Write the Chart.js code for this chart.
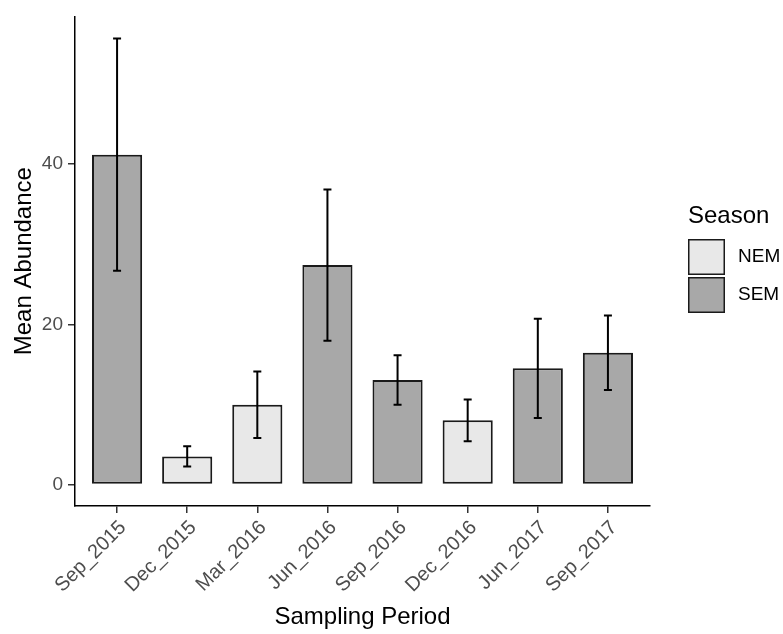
<!DOCTYPE html>
<html>
<head>
<meta charset="utf-8">
<script src="https://cdn.jsdelivr.net/npm/chart.js@4/dist/chart.umd.min.js"></script>
<style>
  html, body { margin: 0; padding: 0; background: #ffffff; }
  #wrap { width: 783px; height: 634px; }
</style>
</head>
<body>
<div id="wrap"><canvas id="c" width="783" height="634"></canvas></div>
<script>
// Sampling periods and their season
const periods = ["Sep_2015", "Dec_2015", "Mar_2016", "Jun_2016", "Sep_2016", "Dec_2016", "Jun_2017", "Sep_2017"];
const seasons = ["SEM", "NEM", "NEM", "SEM", "SEM", "NEM", "SEM", "SEM"];
// Mean abundance and standard error per period
const meanAbundance = [41.2, 3.5, 9.95, 27.4, 13.05, 8.0, 14.5, 16.45];
const stdError = [14.5, 1.25, 4.15, 9.45, 3.1, 2.6, 6.2, 4.65];
// Axis ticks and legend entries
const yTicks = [0, 20, 40];
const legendEntries = ["NEM", "SEM"];

const seasonFill = { NEM: "#e8e8e8", SEM: "#a8a8a8" };
const FONT = "'Liberation Sans', Arial, sans-serif";

// Error bars (mean ± SE) with small caps
const errorBars = {
  id: "errorBars",
  afterDatasetsDraw(chart) {
    const { ctx, scales: { x, y } } = chart;
    ctx.save();
    ctx.strokeStyle = "#000000";
    ctx.lineWidth = 2;
    meanAbundance.forEach((m, i) => {
      const px = x.getPixelForValue(i);
      const hi = y.getPixelForValue(m + stdError[i]);
      const lo = y.getPixelForValue(m - stdError[i]);
      ctx.beginPath();
      ctx.moveTo(px, hi); ctx.lineTo(px, lo);
      ctx.moveTo(px - 4, hi); ctx.lineTo(px + 4, hi);
      ctx.moveTo(px - 4, lo); ctx.lineTo(px + 4, lo);
      ctx.stroke();
    });
    ctx.restore();
  }
};

// Season legend on the right
const seasonLegend = {
  id: "seasonLegend",
  afterDraw(chart) {
    const ctx = chart.ctx;
    ctx.save();
    ctx.fillStyle = "#000000";
    ctx.font = "24px " + FONT;
    ctx.textAlign = "left";
    ctx.textBaseline = "alphabetic";
    ctx.fillText("Season", 688, 223);
    legendEntries.forEach((name, i) => {
      const top = 239 + i * 38;
      ctx.fillStyle = seasonFill[name];
      ctx.fillRect(688, top, 37, 36);
      ctx.strokeStyle = "#1a1a1a";
      ctx.lineWidth = 1.5;
      ctx.strokeRect(688.75, top + 0.75, 35.5, 34.5);
      ctx.fillStyle = "#000000";
      ctx.font = "19px " + FONT;
      ctx.textBaseline = "middle";
      ctx.fillText(name, 738, top + 18);
    });
    ctx.restore();
  }
};

new Chart(document.getElementById("c"), {
  type: "bar",
  data: {
    datasets: [{
      data: meanAbundance.map((v, i) => ({ x: i, y: v })),
      backgroundColor: seasons.map(s => seasonFill[s]),
      borderColor: "#1a1a1a",
      borderWidth: 2,
      borderSkipped: false,
      barPercentage: 1,
      categoryPercentage: 0.715
    }]
  },
  options: {
    responsive: false,
    devicePixelRatio: 1,
    animation: false,
    layout: { padding: { top: 7, right: 133, bottom: 0, left: 0 } },
    plugins: { legend: { display: false }, tooltip: { enabled: false } },
    scales: {
      x: {
        type: "linear",
        offset: false,
        min: -0.6,
        max: periods.length - 0.4,
        afterBuildTicks: s => { s.ticks = periods.map((_, i) => ({ value: i })); },
        afterFit: s => { s.height = 128; },
        grid: { offset: false, drawOnChartArea: false, drawTicks: true, tickLength: 7, color: "#333333", lineWidth: 1.5 },
        border: { display: true, color: "#000000", width: 1.5 },
        ticks: {
          autoSkip: false,
          minRotation: 45,
          maxRotation: 45,
          padding: 3,
          labelOffset: 6,
          color: "#4d4d4d",
          font: { family: FONT, size: 20 },
          callback: v => periods[v]
        },
        title: {
          display: true,
          text: "Sampling Period",
          color: "#000000",
          font: { family: FONT, size: 24 },
          padding: { top: 0, bottom: 2 }
        }
      },
      y: {
        min: -2.7,
        max: 58.47,
        afterBuildTicks: s => { s.ticks = yTicks.map(v => ({ value: v })); },
        afterFit: s => { s.width = 75; },
        grid: { drawOnChartArea: false, drawTicks: true, tickLength: 7, color: "#333333", lineWidth: 1.5 },
        border: { display: true, color: "#000000", width: 1.5 },
        ticks: {
          padding: 5,
          color: "#4d4d4d",
          font: { family: FONT, size: 19 }
        },
        title: {
          display: true,
          text: "Mean Abundance",
          color: "#000000",
          font: { family: FONT, size: 24 },
          padding: { top: 10, bottom: 0 }
        }
      }
    }
  },
  plugins: [errorBars, seasonLegend]
});
</script>
</body>
</html>
